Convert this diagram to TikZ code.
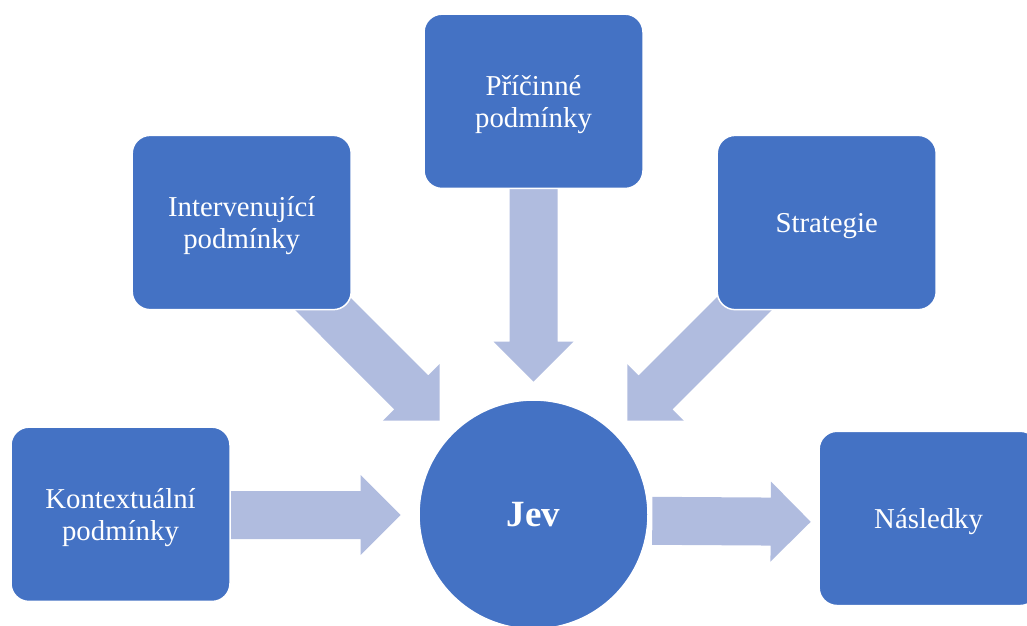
\documentclass[tikz,border=0pt]{standalone}
\usepackage{fontspec}
\setmainfont{Liberation Serif}
\usetikzlibrary{calc}
\definecolor{boxblue}{HTML}{4472C4}
\definecolor{arrowblue}{HTML}{B0BCDF}
\tikzset{
  box/.style={rectangle, rounded corners=18pt, fill=boxblue, draw=white, line width=1.5pt,
    minimum width=219pt, minimum height=174.3pt, text=white,
    font=\fontsize{28.8}{32}\selectfont, inner sep=0pt},
  hub/.style={circle, fill=boxblue, draw=white, line width=1.5pt, minimum size=229pt,
    text=white, font=\fontsize{37}{40}\selectfont\bfseries, inner sep=0pt},
  arrowshape/.style={fill=arrowblue, draw=none}
}
\newcommand{\boxlbl}[1]{\raisebox{-3.5pt}[\height][\depth]{\begin{tabular}{@{}c@{}}#1\end{tabular}}}
\newcommand{\blockarrow}[3]{%
  \coordinate (#1h) at ($(#3)!40pt!(#2)$);
  \path[arrowshape] ($(#2)!24pt!90:(#3)$) -- ($(#1h)!24pt!90:(#3)$) -- ($(#1h)!40pt!90:(#3)$)
    -- (#3) -- ($(#1h)!40pt!-90:(#3)$) -- ($(#1h)!24pt!-90:(#3)$) -- ($(#2)!24pt!-90:(#3)$) -- cycle;
}
\begin{document}
\begin{tikzpicture}[x=1pt,y=-1pt]
\useasboundingbox (0,0) rectangle (1027,625);
\clip (0,0) rectangle (1027,625);
% arrow end points
\coordinate (s1) at (533.5,180);   \coordinate (t1) at (533.5,381.7);
\coordinate (s2) at (300,281);     \coordinate (t2) at (439.5,420.7);
\coordinate (s3) at (767,281);     \coordinate (t3) at (627.3,420.7);
\coordinate (s4) at (220,515);     \coordinate (t4) at (400.7,515);
\coordinate (s5) at (652.3,520.8); \coordinate (t5) at (810.7,521.8);
\blockarrow{a1}{s1}{t1}
\blockarrow{a2}{s2}{t2}
\blockarrow{a3}{s3}{t3}
\blockarrow{a4}{s4}{t4}
\blockarrow{a5}{s5}{t5}
% nodes
\node[box] (pric) at (533.5,101.3) {\boxlbl{Příčinné\\podmínky}};
\node[box] (interv) at (241.7,222.5) {\boxlbl{Intervenující\\podmínky}};
\node[box] (strat) at (826.7,222.5) {\boxlbl{Strategie}};
\node[box] (kont) at (120.5,514.3) {\boxlbl{Kontextuální\\podmínky}};
\node[box] (nasl) at (928.6,518.4) {\boxlbl{Následky}};
\node[hub] (jev) at (533.5,514.5) {Jev};
\end{tikzpicture}
\end{document}
